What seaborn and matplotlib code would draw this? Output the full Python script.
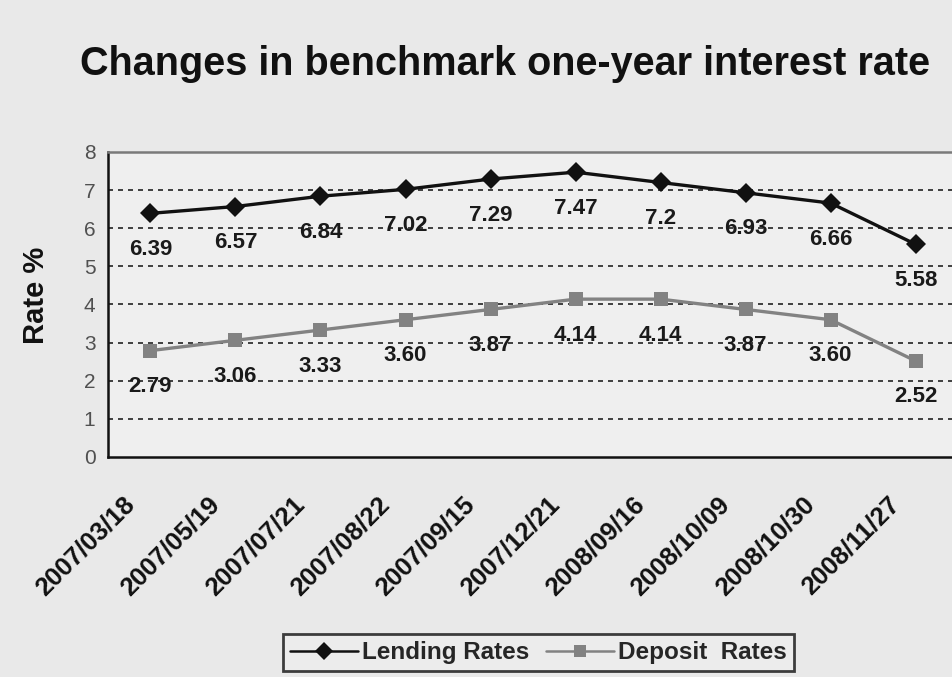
import pandas as pd
import matplotlib
matplotlib.use("Agg")
import matplotlib.pyplot as plt
import seaborn as sns

# data
dates = ["2007/03/18", "2007/05/19", "2007/07/21", "2007/08/22", "2007/09/15",
         "2007/12/21", "2008/09/16", "2008/10/09", "2008/10/30", "2008/11/27"]
lending = [6.39, 6.57, 6.84, 7.02, 7.29, 7.47, 7.2, 6.93, 6.66, 5.58]
deposit = [2.79, 3.06, 3.33, 3.60, 3.87, 4.14, 4.14, 3.87, 3.60, 2.52]

sns.set_theme(style="white")
plt.rcParams["font.family"] = ["Liberation Sans", "DejaVu Sans"]

df = pd.DataFrame({
    "pos": list(range(len(dates))) * 2,
    "rate": lending + deposit,
    "series": ["Lending Rates"] * len(dates) + ["Deposit  Rates"] * len(dates),
})

fig = plt.figure(figsize=(9.53, 6.77), dpi=100)
fig.patch.set_facecolor("#e9e9e9")
ax = fig.add_axes([0.1133, 0.325, 0.892, 0.4505])
ax.set_facecolor("#efefef")

sns.lineplot(data=df, x="pos", y="rate", hue="series", style="series",
             palette={"Lending Rates": "#111111", "Deposit  Rates": "#828282"},
             markers={"Lending Rates": "D", "Deposit  Rates": "s"},
             dashes=False, linewidth=2.4, markersize=10, markeredgewidth=0,
             ax=ax, legend=True)

# value labels under each point
for i, v in enumerate(lending):
    ax.annotate(str(v), (i, v), xytext=(0, -36), textcoords="offset pixels",
                ha="center", va="center", fontsize=16, fontweight="bold", color="#1a1a1a")
for i, v in enumerate(deposit):
    ax.annotate(f"{v:.2f}", (i, v), xytext=(0, -36), textcoords="offset pixels",
                ha="center", va="center", fontsize=16, fontweight="bold", color="#1a1a1a")

ax.set_xlim(-0.5, len(dates) - 0.5)
ax.set_ylim(0, 8)
ax.set_yticks(range(0, 9))
ax.set_yticklabels([str(t) for t in range(0, 9)], fontsize=15, color="#505050")
for y in range(1, 8):
    ax.axhline(y, color="#222222", linestyle=(0, (3, 3)), linewidth=1.2, zorder=0)

# category labels, slanted and set a little left of each category centre
ax.set_xticks([])
for i, d in enumerate(dates):
    ax.annotate(d, (i, 0), xycoords=("data", "axes fraction"),
                xytext=(-20, -44), textcoords="offset pixels",
                rotation=45, rotation_mode="anchor", ha="right", va="center",
                fontsize=18.5, fontweight="bold", color="#111111", annotation_clip=False)
ax.set_xticks([i + 0.5 for i in range(len(dates) - 1)], minor=True)
ax.tick_params(axis="x", which="minor", direction="in", length=5, width=1.2, color="#222222")
ax.tick_params(axis="y", length=0, pad=9)

for side in ["left", "bottom"]:
    ax.spines[side].set_color("#111111")
    ax.spines[side].set_linewidth(1.8)
ax.spines["top"].set_color("#7a7a7a")
ax.spines["top"].set_linewidth(1.8)
ax.spines["right"].set_visible(False)

ax.set_xlabel("")
ax.set_ylabel("Rate %", fontsize=21, fontweight="bold", color="#111111")
ax.yaxis.set_label_coords(-0.068, 0.53)

fig.text(0.53, 0.905, "Changes in benchmark one-year interest rate",
         ha="center", va="center", fontsize=28.5, fontweight="bold", color="#111111")

handles, labels = ax.get_legend_handles_labels()
ax.get_legend().remove()
for h in handles:
    h.set_linewidth(1.8)
    h.set_markersize(9)
leg = fig.legend(handles, labels, loc="center", bbox_to_anchor=(0.565, 0.036), ncol=2,
                 frameon=True, fancybox=False, handlelength=2.8, handletextpad=0.15,
                 columnspacing=0.7, borderpad=0.3, borderaxespad=0,
                 prop={"size": 17.5, "weight": "bold"})
leg.get_frame().set_edgecolor("#111111")
leg.get_frame().set_linewidth(2)
leg.get_frame().set_facecolor("#eeeeee")

fig.savefig("out.png", dpi=100, facecolor=fig.get_facecolor())
